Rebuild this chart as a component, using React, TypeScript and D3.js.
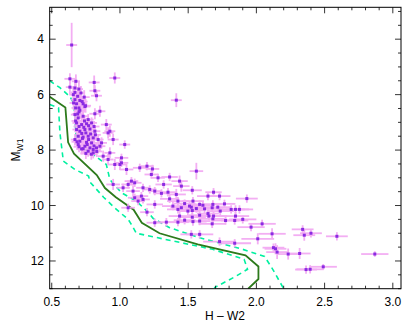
import React from "react";
import * as d3 from "d3";

// Observed stars: [H-W2, M_W1, err(H-W2), err(M_W1)]
const stars: number[][] = [
  [0.646, 4.21, 0.04, 0.8], [0.633, 5.43, 0.04, 0.2], [0.677, 5.52, 0.03, 0.25], [0.811, 5.56, 0.04, 0.25],
  [0.962, 5.40, 0.04, 0.2], [0.633, 5.73, 0.03, 0.25], [0.67, 5.76, 0.03, 0.3], [0.699, 5.80, 0.03, 0.3],
  [0.816, 5.86, 0.04, 0.2], [0.828, 6.04, 0.04, 0.2], [0.67, 5.92, 0.03, 0.3], [0.714, 5.94, 0.03, 0.25],
  [0.658, 6.00, 0.03, 0.3], [0.69, 6.06, 0.03, 0.3], [0.738, 6.09, 0.04, 0.25], [0.67, 6.18, 0.03, 0.25],
  [0.706, 6.21, 0.04, 0.25], [0.682, 6.33, 0.03, 0.3], [0.723, 6.25, 0.04, 0.2], [0.748, 6.40, 0.04, 0.25],
  [0.675, 6.48, 0.03, 0.25], [0.699, 6.48, 0.03, 0.25], [1.413, 6.20, 0.04, 0.25], [0.73, 6.33, 0.03, 0.2],
  [0.706, 6.56, 0.04, 0.2], [0.743, 6.43, 0.04, 0.2], [0.816, 6.69, 0.04, 0.2], [0.853, 6.60, 0.04, 0.2],
  [0.67, 6.72, 0.03, 0.25], [0.694, 6.84, 0.03, 0.2], [0.73, 6.78, 0.04, 0.2], [0.767, 6.90, 0.04, 0.2],
  [0.682, 7.02, 0.03, 0.2], [0.719, 7.08, 0.04, 0.25], [0.755, 7.05, 0.04, 0.2], [0.792, 7.02, 0.04, 0.2],
  [0.90, 7.08, 0.04, 0.2], [0.913, 7.38, 0.04, 0.2], [0.95, 7.62, 0.04, 0.2], [1.035, 7.80, 0.04, 0.15],
  [0.865, 7.74, 0.04, 0.2], [0.682, 7.26, 0.03, 0.2], [0.706, 7.32, 0.04, 0.2], [0.743, 7.26, 0.04, 0.2],
  [0.78, 7.24, 0.04, 0.2], [0.816, 7.32, 0.04, 0.2], [0.694, 7.50, 0.03, 0.2], [0.73, 7.53, 0.04, 0.2],
  [0.767, 7.50, 0.04, 0.2], [0.804, 7.56, 0.04, 0.2], [0.67, 7.62, 0.03, 0.2], [0.706, 7.68, 0.04, 0.2],
  [0.755, 7.72, 0.04, 0.2], [0.792, 7.74, 0.04, 0.2], [0.694, 7.80, 0.03, 0.2], [0.743, 7.86, 0.04, 0.2],
  [0.78, 7.92, 0.04, 0.2], [0.804, 7.98, 0.04, 0.2], [0.719, 7.96, 0.04, 0.2], [0.767, 8.04, 0.04, 0.2],
  [0.804, 8.10, 0.04, 0.2], [0.828, 7.92, 0.04, 0.2], [0.926, 8.10, 0.04, 0.2], [0.853, 7.86, 0.04, 0.2],
  [0.877, 8.22, 0.04, 0.2], [0.913, 8.34, 0.04, 0.2], [1.011, 8.46, 0.05, 0.15], [1.011, 8.28, 0.05, 0.15],
  [0.926, 7.32, 0.04, 0.2], [0.962, 8.52, 0.05, 0.2], [1.0, 8.52, 0.05, 0.2], [1.048, 8.70, 0.05, 0.2],
  [0.70, 7.15, 0.04, 0.2], [0.735, 7.18, 0.04, 0.2], [0.77, 7.12, 0.04, 0.2], [0.81, 7.15, 0.04, 0.2],
  [0.72, 7.40, 0.04, 0.2], [0.75, 7.38, 0.04, 0.2], [0.785, 7.42, 0.04, 0.2], [0.82, 7.45, 0.04, 0.2],
  [0.685, 7.70, 0.04, 0.2], [0.725, 7.58, 0.04, 0.2], [0.77, 7.62, 0.04, 0.2], [0.81, 7.85, 0.04, 0.2],
  [0.73, 7.95, 0.04, 0.2], [0.79, 8.15, 0.04, 0.2], [0.83, 8.05, 0.04, 0.2], [0.75, 8.12, 0.04, 0.2],
  [0.84, 7.62, 0.04, 0.2], [0.70, 7.88, 0.04, 0.2], [0.76, 7.80, 0.04, 0.2], [0.675, 6.95, 0.03, 0.2],
  [0.74, 6.95, 0.04, 0.2], [0.70, 6.62, 0.04, 0.2], [0.66, 6.30, 0.03, 0.25], [0.69, 6.70, 0.04, 0.2],
  [1.145, 8.64, 0.05, 0.15], [1.198, 8.58, 0.05, 0.15], [1.238, 8.68, 0.05, 0.15], [1.23, 8.88, 0.05, 0.15],
  [1.279, 9.00, 0.05, 0.15], [1.364, 8.97, 0.06, 0.15], [1.56, 8.76, 0.05, 0.3], [1.437, 9.12, 0.06, 0.2],
  [1.32, 9.24, 0.06, 0.15], [1.45, 9.30, 0.06, 0.2], [1.084, 9.12, 0.05, 0.15], [1.108, 9.18, 0.05, 0.15],
  [1.06, 9.24, 0.05, 0.15], [1.169, 9.36, 0.05, 0.15], [1.218, 9.42, 0.05, 0.15], [1.255, 9.48, 0.05, 0.15],
  [1.304, 9.56, 0.06, 0.15], [1.096, 9.48, 0.05, 0.2], [0.95, 9.24, 0.05, 0.2], [1.53, 9.45, 0.07, 0.15],
  [1.413, 9.60, 0.07, 0.2], [1.686, 9.52, 0.06, 0.15], [1.133, 9.84, 0.05, 0.15], [1.169, 9.78, 0.05, 0.15],
  [1.255, 9.96, 0.06, 0.15], [1.364, 9.76, 0.07, 0.15], [1.425, 9.84, 0.08, 0.15], [1.474, 9.93, 0.08, 0.15],
  [1.535, 9.84, 0.08, 0.15], [1.584, 9.96, 0.08, 0.15], [1.645, 9.66, 0.08, 0.15], [1.681, 9.96, 0.08, 0.15],
  [1.388, 10.02, 0.08, 0.15], [1.45, 10.08, 0.08, 0.15], [1.51, 10.02, 0.08, 0.15], [1.73, 9.66, 0.08, 0.15],
  [1.93, 9.75, 0.08, 0.15], [1.608, 9.99, 0.08, 0.15], [1.676, 10.08, 0.08, 0.15], [1.717, 10.06, 0.1, 0.15],
  [1.766, 9.94, 0.08, 0.15], [1.523, 10.06, 0.08, 0.15], [1.56, 10.11, 0.08, 0.15], [1.62, 10.12, 0.1, 0.15],
  [1.847, 10.14, 0.1, 0.15], [1.876, 10.14, 0.1, 0.15], [1.735, 10.20, 0.1, 0.15], [1.53, 10.18, 0.08, 0.15],
  [1.584, 10.35, 0.08, 0.15], [1.652, 10.38, 0.1, 0.15], [1.686, 10.38, 0.1, 0.15], [1.847, 10.38, 0.1, 0.15],
  [1.53, 10.42, 0.1, 0.15], [1.90, 10.50, 0.1, 0.15], [1.774, 10.54, 0.1, 0.15], [1.535, 10.58, 0.1, 0.15],
  [1.676, 10.66, 0.1, 0.15], [2.042, 10.66, 0.1, 0.15], [1.961, 10.78, 0.1, 0.15], [2.339, 10.86, 0.08, 0.15],
  [2.115, 11.02, 0.1, 0.2], [1.584, 11.04, 0.1, 0.15], [1.523, 11.04, 0.08, 0.15], [2.40, 11.00, 0.08, 0.15],
  [2.351, 11.07, 0.08, 0.2], [2.59, 11.11, 0.08, 0.15], [2.01, 11.20, 0.12, 0.2], [1.73, 11.30, 0.12, 0.15],
  [1.841, 11.36, 0.12, 0.15], [2.125, 11.52, 0.08, 0.15], [2.14, 11.56, 0.08, 0.2], [2.152, 11.68, 0.08, 0.25],
  [2.233, 11.75, 0.08, 0.2], [2.317, 11.73, 0.08, 0.2], [2.868, 11.75, 0.1, 0.1], [2.364, 12.31, 0.08, 0.15],
  [2.394, 12.30, 0.1, 0.15], [2.49, 12.21, 0.1, 0.1], [1.255, 10.62, 0.06, 0.15], [1.34, 10.60, 0.08, 0.15],
  [1.437, 10.38, 0.08, 0.15], [1.474, 10.53, 0.08, 0.15], [1.645, 10.29, 0.08, 0.15], [1.425, 10.14, 0.08, 0.15],
  [1.498, 10.20, 0.08, 0.15], [1.06, 10.08, 0.05, 0.15], [1.108, 9.72, 0.05, 0.15], [1.157, 9.66, 0.05, 0.15],
  [1.023, 9.36, 0.05, 0.15], [1.352, 9.52, 0.06, 0.15], [1.198, 10.24, 0.05, 0.15], [1.815, 10.14, 0.1, 0.15],
  [1.425, 10.60, 0.08, 0.15], [1.584, 10.56, 0.08, 0.15], [1.681, 10.48, 0.1, 0.15], [1.841, 10.54, 0.1, 0.15],
];

// Model sequence (solid) and its bounds (dashed): [H-W2, M_W1]
const modelLine: number[][] = [
  [0.485, 6.08], [0.60, 6.46], [0.62, 7.72], [0.663, 8.13], [0.83, 8.9], [0.89, 9.37], [0.97, 9.7],
  [1.10, 10.15], [1.16, 10.62], [1.29, 11.0], [1.57, 11.4], [1.92, 11.8], [2.015, 12.2], [2.015, 12.65], [1.94, 13.0],
];
const upperBound: number[][] = [
  [0.485, 5.5], [0.56, 5.75], [0.633, 6.07], [0.66, 6.3], [0.67, 6.75], [0.677, 7.5], [0.706, 7.86],
  [0.804, 8.16], [0.9, 8.52], [0.926, 9.06], [1.011, 9.54], [1.12, 9.84], [1.21, 10.26], [1.242, 10.46],
  [1.364, 10.8], [1.584, 11.16], [1.9, 11.58], [2.06, 11.84], [2.12, 12.3], [2.16, 12.65], [2.2, 13.0],
];
const lowerBound: number[][] = [
  [0.485, 6.36], [0.55, 6.48], [0.56, 7.38], [0.585, 8.4], [0.67, 8.7], [0.77, 8.94], [0.78, 9.15],
  [0.88, 9.7], [0.96, 10.08], [1.06, 10.5], [1.08, 10.65], [1.12, 11.0], [1.39, 11.28], [1.68, 11.58],
  [1.91, 11.94], [1.935, 12.3], [1.85, 12.55], [1.69, 12.97],
];

const xMajor = [0.5, 1.0, 1.5, 2.0, 2.5, 3.0];
const yMajor = [4, 6, 8, 10, 12];

export default function App() {
  const W = 411, H = 329;
  const L = 49.7, R = 401, T = 7.3, B = 288.7;
  const x = d3.scaleLinear().domain([0.485, 3.06]).range([L, R]);
  const y = d3.scaleLinear().domain([2.85, 13]).range([T, B]);
  const line = d3.line<number[]>().x((d) => x(d[0])).y((d) => y(d[1]));

  const xMinor = d3.range(5, 31).map((v) => v / 10).filter((v) => !xMajor.some((m) => Math.abs(m - v) < 1e-6));
  const yMinor = d3.range(6, 27).map((v) => v / 2).filter((v) => !yMajor.includes(v));
  const font = "'Liberation Sans', Arial, Helvetica, sans-serif";

  return (
    <svg width={W} height={H} style={{ position: "absolute", left: 0, top: 0, background: "#fff" }}>
      <defs>
        <clipPath id="plot">
          <rect x={L} y={T} width={R - L} height={B - T} />
        </clipPath>
      </defs>
      <g clipPath="url(#plot)">
        <path d={line(upperBound) || ""} fill="none" stroke="#00f0a0" strokeWidth={1.6} strokeDasharray="5,4" />
        <path d={line(lowerBound) || ""} fill="none" stroke="#00f0a0" strokeWidth={1.6} strokeDasharray="5,4" />
        <path d={line(modelLine) || ""} fill="none" stroke="#2d7a1c" strokeWidth={1.8} />
        <g stroke="#f2a6f2" strokeWidth={1.8} opacity={0.9}>
          {stars.map((d, i) => (
            <g key={i}>
              <line x1={x(d[0] - d[2])} x2={x(d[0] + d[2])} y1={y(d[1])} y2={y(d[1])} />
              <line x1={x(d[0])} x2={x(d[0])} y1={y(d[1] - d[3])} y2={y(d[1] + d[3])} />
            </g>
          ))}
        </g>
        <g fill="#8a2be2">
          {stars.map((d, i) => (
            <rect key={i} x={x(d[0]) - 1.5} y={y(d[1]) - 1.5} width={3} height={3} />
          ))}
        </g>
      </g>
      <rect x={L} y={T} width={R - L} height={B - T} fill="none" stroke="#000" strokeWidth={1} />
      <g stroke="#000" strokeWidth={0.8}>
        {xMajor.map((v) => (
          <g key={"xM" + v}>
            <line x1={x(v)} x2={x(v)} y1={B} y2={B - 6} />
            <line x1={x(v)} x2={x(v)} y1={T} y2={T + 6} />
          </g>
        ))}
        {xMinor.map((v) => (
          <g key={"xm" + v}>
            <line x1={x(v)} x2={x(v)} y1={B} y2={B - 3} />
            <line x1={x(v)} x2={x(v)} y1={T} y2={T + 3} />
          </g>
        ))}
        {yMajor.map((v) => (
          <g key={"yM" + v}>
            <line x1={L} x2={L + 6} y1={y(v)} y2={y(v)} />
            <line x1={R} x2={R - 6} y1={y(v)} y2={y(v)} />
          </g>
        ))}
        {yMinor.map((v) => (
          <g key={"ym" + v}>
            <line x1={L} x2={L + 3} y1={y(v)} y2={y(v)} />
            <line x1={R} x2={R - 3} y1={y(v)} y2={y(v)} />
          </g>
        ))}
      </g>
      <g fontFamily={font} fontSize={12} fill="#000">
        {xMajor.map((v) => (
          <text key={"xl" + v} x={x(v)} y={306} textAnchor="middle">{v.toFixed(1)}</text>
        ))}
        {yMajor.map((v) => (
          <text key={"yl" + v} x={44} y={y(v) + 4.3} textAnchor="end">{v}</text>
        ))}
        <text x={225} y={320} textAnchor="middle">H – W2</text>
        <text transform="translate(20,150) rotate(-90)" textAnchor="middle">
          M<tspan fontSize={8.5} dy={3}>W1</tspan>
        </text>
      </g>
    </svg>
  );
}
